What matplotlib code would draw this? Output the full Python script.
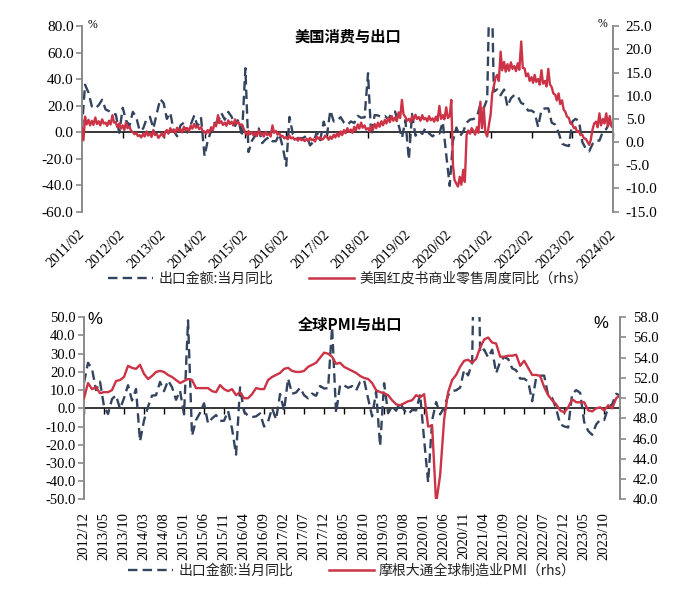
import pandas as pd
import matplotlib
matplotlib.use('Agg')
import matplotlib.pyplot as plt
import matplotlib.dates as mdates
from matplotlib.lines import Line2D

# China exports, monthly yoy %, 2011/02 - 2024/02
exports = [
    2.4, 35.8, 29.9, 19.4, 17.9, 20.4, 24.5, 17.1, 15.9, 13.8, 13.4,
    -0.5, 18.4, 8.9, 4.9, 15.3, 11.3, 1.0, 2.7, 9.9, 11.6, 2.9, 14.1,
    25.0, 21.8, 10.0, 14.7, 1.0, -3.1, 5.1, 7.2, -0.3, 5.6, 12.7, 4.3,
    10.6, -18.1, -6.6, 0.9, 7.0, 7.2, 14.5, 9.4, 15.3, 11.6, 4.7, 9.7,
    -3.3, 48.3, -15.0, -6.4, -2.5, 2.8, -8.3, -5.5, -3.7, -6.9, -6.8, -1.4,
    -11.2, -25.4, 11.5, -1.8, -4.1, -4.8, -4.4, -2.8, -10.0, -7.3, 0.1, -6.1,
    7.9, -1.3, 16.4, 8.0, 8.7, 11.3, 7.2, 5.5, 8.1, 6.9, 12.3, 10.9,
    11.1, 44.5, -2.7, 12.9, 12.6, 11.3, 12.2, 9.8, 14.5, 15.6, 5.4, -4.4,
    9.1, -20.7, 13.8, -2.7, 1.1, -1.3, 3.3, -1.0, -3.2, -0.9, -1.1, 7.6,
    -17.2, -40.6, -6.6, 3.5, -3.3, 0.5, 7.2, 9.5, 9.9, 11.4, 21.1, 18.1,
    24.9, 154.9, 30.6, 32.3, 27.9, 32.2, 19.3, 25.6, 28.1, 27.1, 22.0, 20.9,
    16.3, 16.3, 14.7, 3.9, 16.9, 17.9, 18.0, 7.1, 5.7, -0.3, -8.7, -9.9,
    -10.5, 8.0, 10.0, 8.5, -7.5, -12.4, -14.5, -8.8, -6.2, -6.4, 0.5, 2.3,
    8.0, 7.0,
]

# US Redbook same-store sales yoy %, read twice a month, 2011/02 - 2024/02
redbook = [
    3.0, 0.4, 5.5, 3.8, 4.8, 3.6, 4.6, 3.7, 5.3, 3.9, 4.5, 3.6, 4.9, 4.0, 4.2, 3.5, 4.6, 3.8, 5.8, 4.2, 4.3, 3.2,
    4.0, 2.9, 3.6, 2.6, 4.2, 3.0, 3.4, 2.4, 2.2, 1.7, 2.0, 1.3, 1.5, 1.0, 1.8, 1.2, 2.3, 1.4, 1.9, 1.1, 2.6, 1.5, 1.8, 0.9,
    1.4, 1.9, 1.1, 2.2, 2.6, 1.8, 3.0, 2.2, 2.7, 2.0, 3.1, 2.4, 2.8, 2.1, 3.3, 2.5, 3.0, 2.3, 3.6, 2.9, 3.9, 3.1, 3.5, 2.8,
    3.2, 2.4, 2.3, 1.8, 2.6, 2.0, 3.2, 2.5, 4.0, 3.4, 5.8, 4.1, 4.5, 3.7, 4.2, 3.5, 4.7, 3.9, 4.4, 3.6, 4.9, 4.0, 4.3, 3.7,
    3.8, 3.0, 2.0, 1.5, 2.4, 1.7, 2.2, 1.4, 2.0, 1.3, 2.5, 1.6, 1.9, 1.2, 2.2, 1.5, 1.8, 1.2, 3.6, 2.0, 2.4, 1.6, 1.9, 1.3,
    1.3, 0.8, 1.1, 0.6, 1.4, 0.8, 1.0, 0.5, 0.8, 0.3, 0.9, 0.4, 0.6, 0.2, 0.7, 0.3, 0.9, 0.4, 0.6, 0.1, 1.2, 0.7, 1.0, 0.5,
    0.8, 1.4, 1.0, 0.5, 1.2, 0.7, 1.6, 1.0, 1.9, 1.2, 2.3, 1.5, 2.6, 1.9, 3.0, 2.2, 2.7, 2.0, 3.3, 2.5, 3.8, 2.9, 4.2, 3.1,
    3.6, 2.7, 3.0, 2.3, 3.5, 2.6, 3.9, 3.0, 4.2, 3.3, 4.5, 3.6, 4.8, 4.0, 5.2, 4.3, 5.6, 4.6, 5.3, 4.5, 6.4, 5.2, 9.1, 6.0,
    5.4, 4.6, 5.0, 4.3, 5.6, 4.8, 5.9, 5.0, 5.4, 4.6, 5.8, 4.9, 5.2, 4.5, 5.6, 4.7, 5.1, 4.4, 5.5, 4.6, 7.8, 5.0, 5.8, 4.9,
    7.5, 5.2, 5.6, 9.1, -5.0, -8.2, -9.0, -9.6, -7.5, -9.2, -6.0, -8.6, 1.5, 2.5, 1.8, 3.0, 2.4, 1.6, 3.2, 2.0, 8.7, 3.0, 7.5, 2.2,
    1.2, 3.5, 6.0, 10.5, 12.0, 13.8, 14.5, 13.2, 19.5, 15.5, 17.3, 15.2, 16.8, 15.4, 17.2, 15.8, 16.4, 15.3, 17.0, 15.6, 21.7, 16.0, 15.9, 14.2,
    14.8, 13.2, 14.0, 12.8, 14.5, 13.0, 13.6, 12.4, 15.5, 12.6, 13.2, 12.0, 15.8, 12.5, 11.8, 10.5, 10.2, 9.0, 10.5, 8.2, 9.0, 7.0, 6.5, 5.5,
    5.2, 4.0, 3.8, 3.0, 3.2, 2.2, 2.4, 1.5, 1.6, 0.8, 0.7, 0.1, -0.6, 0.4, 2.8, 4.0, 4.4, 3.2, 6.2, 3.6, 5.0, 4.0, 6.2, 3.4,
    5.6, 3.5, 3.0,
]

# JPMorgan global manufacturing PMI, 2012/12 - 2024/02
pmi = [
    50.0,
    51.5, 50.9, 51.1, 50.5, 50.6, 50.6, 50.8, 51.7, 51.8, 52.1, 53.2, 53.0,
    52.9, 53.3, 52.4, 51.9, 52.2, 52.6, 52.7, 52.6, 52.3, 52.1, 51.8, 51.5,
    51.7, 51.9, 51.8, 51.0, 51.0, 51.0, 51.0, 50.7, 50.6, 51.3, 50.9, 50.7,
    50.9, 50.3, 50.6, 50.0, 50.0, 50.4, 51.0, 50.9, 50.9, 51.8, 52.1, 52.3,
    52.5, 52.9, 53.0, 52.7, 52.6, 52.6, 52.7, 53.1, 53.3, 53.5, 54.0, 54.5,
    54.4, 54.1, 53.4, 53.5, 53.1, 52.9, 52.7, 52.5, 52.2, 52.0, 51.9, 51.5,
    50.8, 50.6, 50.5, 50.3, 49.8, 49.4, 49.3, 49.5, 49.7, 49.8, 50.3, 50.1,
    50.4, 47.2, 47.3, 39.6, 42.4, 47.9, 50.6, 51.8, 52.3, 53.1, 53.7, 53.8,
    53.5, 53.9, 55.0, 55.8, 56.0, 55.5, 55.4, 54.1, 54.1, 54.2, 54.2, 54.3,
    53.2, 53.7, 53.0, 52.3, 52.3, 52.2, 51.1, 50.3, 49.8, 49.4, 48.8, 48.6,
    49.1, 49.9, 49.6, 49.6, 49.6, 48.8, 48.7, 49.0, 49.1, 48.8, 49.3, 49.0,
    50.0, 50.3,
]

export_label = '出口金额:当月同比'
redbook_label = '美国红皮书商业零售周度同比（rhs）'
pmi_label = '摩根大通全球制造业PMI（rhs）'

BLUE = '#34445f'
RED = '#cc3346'
GREY = '#8a8a8a'
CJK = ['Noto Sans CJK SC', 'DejaVu Sans']

plt.rcParams['font.family'] = ['Liberation Serif', 'Noto Sans CJK SC']
plt.rcParams['axes.unicode_minus'] = False


def style_axes(ax, ax2):
    for a in (ax, ax2):
        a.spines['top'].set_visible(False)
        a.spines['bottom'].set_visible(False)
        a.set_facecolor('none')
    ax.spines['right'].set_visible(False)
    ax2.spines['left'].set_visible(False)
    ax.spines['left'].set_color(GREY)
    ax.spines['left'].set_linewidth(1.4)
    ax2.spines['right'].set_color(GREY)
    ax2.spines['right'].set_linewidth(1.4)
    ax.tick_params(axis='y', direction='out', length=4, width=1.2, color=GREY, pad=2)
    ax2.tick_params(axis='y', direction='out', length=4, width=1.2, color=GREY, pad=5)
    ax.tick_params(axis='x', length=0)


def zero_axis(ax, ticks):
    # category axis drawn across the zero line, ticks pointing down
    lo, hi = ax.get_ylim()
    sec = ax.secondary_xaxis((0 - lo) / (hi - lo))
    sec.set_alignment('bottom')
    sec.spines['bottom'].set_color('black')
    sec.spines['bottom'].set_linewidth(1.1)
    sec.set_xticks(ticks)
    sec.tick_params(axis='x', direction='out', length=4, width=1, color='black',
                    labelbottom=False, labeltop=False)


fig = plt.figure(figsize=(7, 5.96), dpi=100, facecolor='white')

# ---------------- top: US consumption vs exports ----------------
ax1 = fig.add_axes([0.117, 0.645, 0.759, 0.311])
ax2 = ax1.twinx()

exp_dates = mdates.date2num(pd.date_range('2011-02-01', periods=len(exports), freq='MS'))
red_dates = mdates.date2num(pd.date_range('2011-02-01', periods=len(redbook), freq='SMS'))
year_range = pd.date_range('2011-02-01', '2024-02-01', freq='12MS')
year_ticks = mdates.date2num(year_range)

ax1.plot(exp_dates, exports, color=BLUE, lw=1.7, dashes=(4, 2.2))
ax2.plot(red_dates, redbook, color=RED, lw=1.7)

ax1.set_xlim(year_ticks[0], year_ticks[-1])
ax1.set_ylim(-60, 80)
ax1.set_yticks(range(-60, 81, 20))
ax1.set_yticklabels([f'{v:.1f}' for v in range(-60, 81, 20)], fontsize=11)
ax2.set_ylim(-15, 25)
ax2.set_yticks(range(-15, 26, 5))
ax2.set_yticklabels([f'{v:.1f}' for v in range(-15, 26, 5)], fontsize=11)
ax1.set_xticks(year_ticks)
ax1.set_xticklabels(year_range.strftime('%Y/%m'),
                    rotation=45, ha='right', va='center', rotation_mode='anchor', fontsize=10.5)
style_axes(ax1, ax2)
ax1.tick_params(axis='x', pad=15)
zero_axis(ax1, year_ticks)

ax1.text(0.5, 0.946, '美国消费与出口', transform=ax1.transAxes, ha='center', va='center',
         fontsize=11, fontweight='bold', family=CJK)
fig.text(92 / 700, 1 - 25 / 596, '%', fontsize=8.5, ha='center', va='center')
fig.text(603 / 700, 1 - 24 / 596, '%', fontsize=8.5, ha='center', va='center')

handles = [Line2D([], [], color=BLUE, lw=1.7, dashes=(4, 2.2)), Line2D([], [], color=RED, lw=1.8)]
fig.legend(handles, [export_label, redbook_label], loc='center', bbox_to_anchor=(348 / 700, 1 - 279 / 596),
           ncol=2, frameon=False, handlelength=3.2, handletextpad=0.4, columnspacing=2.6,
           prop={'family': CJK, 'size': 10}, labelcolor='#222222')

# ---------------- bottom: global PMI vs exports ----------------
ax3 = fig.add_axes([0.12, 0.162, 0.766, 0.3057])
ax4 = ax3.twinx()

exp_b = exports[22:]
months = pd.period_range('2012-12', periods=len(pmi), freq='M').strftime('%Y/%m')
idx = list(range(len(pmi)))

ax3.plot(idx, exp_b, color=BLUE, lw=1.7, dashes=(4, 2.2))
ax4.plot(idx, pmi, color=RED, lw=1.7)

ax3.set_xlim(0, len(pmi) - 1)
ax3.set_ylim(-50, 50)
ax3.set_yticks(range(-50, 51, 10))
ax3.set_yticklabels([f'{v:.1f}' for v in range(-50, 51, 10)], fontsize=10.5)
ax4.set_ylim(40, 58)
ax4.set_yticks(range(40, 59, 2))
ax4.set_yticklabels([f'{v:.1f}' for v in range(40, 59, 2)], fontsize=10.5)
ax3.set_xticks(idx[::5])
ax3.set_xticklabels(months[::5], rotation=90, fontsize=10.5)
style_axes(ax3, ax4)
ax3.tick_params(axis='x', pad=9)
zero_axis(ax3, idx[::5])

ax3.text(0.496, 0.958, '全球PMI与出口', transform=ax3.transAxes, ha='center', va='center',
         fontsize=11, fontweight='bold', family=CJK)
fig.text(95 / 700, 1 - 319 / 596, '%', fontsize=12, ha='center', va='center', family='Liberation Sans')
fig.text(601 / 700, 1 - 323 / 596, '%', fontsize=12, ha='center', va='center', family='Liberation Sans')

fig.legend(handles, [export_label, pmi_label], loc='center', bbox_to_anchor=(352 / 700, 1 - 571 / 596),
           ncol=2, frameon=False, handlelength=3.2, handletextpad=0.4, columnspacing=2.6,
           prop={'family': CJK, 'size': 10}, labelcolor='#222222')

fig.savefig('out.png', dpi=100, facecolor='white')
